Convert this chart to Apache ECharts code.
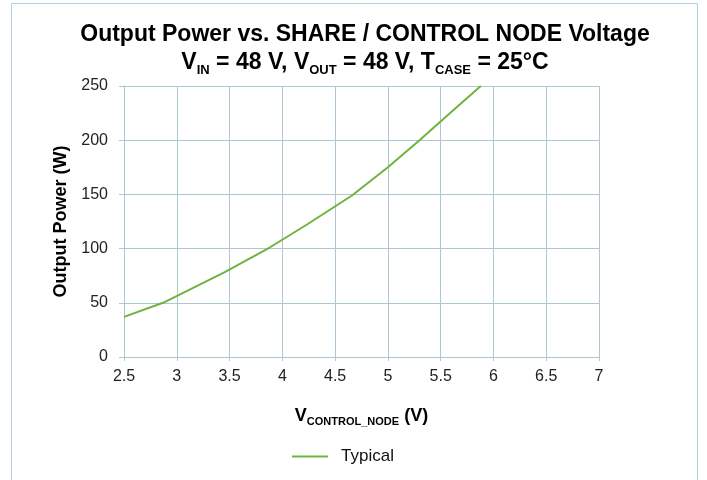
<!DOCTYPE html>
<html>
<head>
<meta charset="utf-8">
<script src="https://cdn.jsdelivr.net/npm/echarts@6/dist/echarts.min.js"></script>
<style>
  html, body { margin: 0; padding: 0; background: #fff; }
  #chart { width: 707px; height: 480px; }
</style>
</head>
<body>
<div id="chart"></div>
<script>
// control node voltage (V) and output power (W)
const voltage = [2.5, 2.87, 3.45, 3.88, 4.23, 4.66, 5.0, 5.3, 5.6, 5.88];
const power = [37, 50, 78, 101, 122, 149, 175, 200, 226, 250];
const seriesName = 'Typical';

const chart = echarts.init(document.getElementById('chart'));
const gridColor = '#adc6cf';
const font = 'Liberation Sans, Arial, sans-serif';

const option = {
  animation: false,
  textStyle: { fontFamily: font },
  graphic: [
    {
      type: 'rect',
      shape: { x: 11.5, y: 3.5, width: 686, height: 500 },
      style: { fill: 'none', stroke: '#b4d0dc', lineWidth: 1 }
    }
  ],
  title: {
    left: 360,
    textAlign: 'center',
    top: 16,
    text: '{b|Output Power vs. SHARE / CONTROL NODE Voltage}\n{b|V}{s|IN}{b| = 48 V, V}{s|OUT}{b| = 48 V, T}{s|CASE}{b| = 25°C}',
    textStyle: {
      fontFamily: font,
      rich: {
        b: { fontSize: 23, fontWeight: 'bold', color: '#000', lineHeight: 28, fontFamily: font },
        s: { fontSize: 13, fontWeight: 'bold', color: '#000', lineHeight: 9, verticalAlign: 'bottom', fontFamily: font }
      }
    }
  },
  legend: {
    bottom: 10,
    left: 287,
    icon: 'rect',
    itemWidth: 36,
    itemHeight: 2,
    itemGap: 10,
    textStyle: { fontSize: 17, color: '#111', fontFamily: font, padding: [0, 0, 0, 8] },
    data: [seriesName]
  },
  grid: { left: 124, right: 108, top: 86, bottom: 123 },
  xAxis: {
    type: 'value',
    min: 2.5,
    max: 7,
    interval: 0.5,
    name: '{b|V}{s|CONTROL_NODE}{b| (V)}',
    nameLocation: 'middle',
    nameGap: 48,
    nameTextStyle: {
      rich: {
        b: { fontSize: 18, fontWeight: 'bold', color: '#000', lineHeight: 22, fontFamily: font },
        s: { fontSize: 11, fontWeight: 'bold', color: '#000', lineHeight: 10, verticalAlign: 'bottom', fontFamily: font }
      }
    },
    axisLine: { show: true, lineStyle: { color: gridColor } },
    axisTick: { show: true, length: 4, lineStyle: { color: gridColor } },
    axisLabel: { fontSize: 16, color: '#222', margin: 12, fontFamily: font },
    splitLine: { show: true, lineStyle: { color: gridColor, width: 1 } }
  },
  yAxis: {
    type: 'value',
    min: 0,
    max: 250,
    interval: 50,
    name: 'Output Power (W)',
    nameLocation: 'middle',
    nameGap: 54,
    nameTextStyle: { fontSize: 18, fontWeight: 'bold', color: '#000', fontFamily: font },
    axisLine: { show: true, lineStyle: { color: gridColor } },
    axisTick: { show: true, length: 5, lineStyle: { color: gridColor } },
    axisLabel: { fontSize: 16, color: '#222', margin: 16, fontFamily: font },
    splitLine: { show: true, lineStyle: { color: gridColor, width: 1 } }
  },
  series: [
    {
      name: seriesName,
      type: 'line',
      symbol: 'none',
      smooth: false,
      data: voltage.map((v, i) => [v, power[i]]),
      lineStyle: { color: '#6db33f', width: 2 },
      itemStyle: { color: '#6db33f' }
    }
  ]
};

chart.setOption(option);
</script>
</body>
</html>
